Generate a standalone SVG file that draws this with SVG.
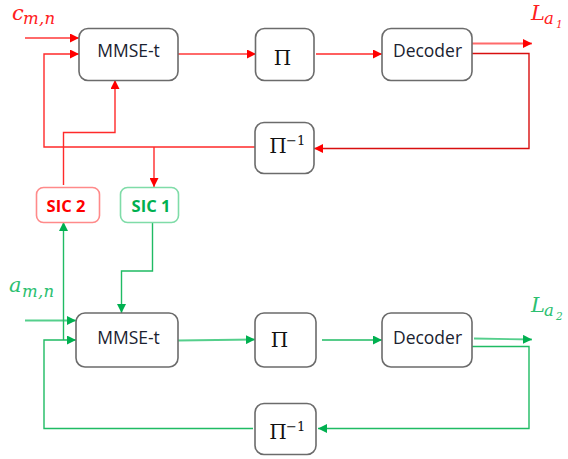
<svg xmlns="http://www.w3.org/2000/svg" width="568" height="459" viewBox="0 0 568 459">
<style>
.b{fill:#fff;stroke:#6b6b6b;stroke-width:1.6}
.t{font-family:"Open Sans","Noto Sans",sans-serif;font-size:17.5px;fill:#1a2230;text-anchor:middle}
.p{font-family:"DejaVu Serif","Liberation Serif",serif;font-size:20px;fill:#111;text-anchor:middle}
.e{font-family:"DejaVu Serif",serif;font-size:13px;fill:#111}
.m{font-family:"DejaVu Serif","Liberation Serif",serif;font-style:italic}
.big{font-size:21px}
.sub{font-size:16.500px;letter-spacing:.3px}
.idx{font-size:10.500px}
.rd{fill:#ff2020}
.gn{fill:#2cc070}
.r{fill:none;stroke:#ff2a2a;stroke-width:1.4}
.rl{fill:none;stroke:#ff6a6a;stroke-width:2}
.g{fill:none;stroke:#1fbb63;stroke-width:1.4}
.gl{fill:none;stroke:#55cf8c;stroke-width:1.8}
.s{font-family:"Open Sans","Noto Sans",sans-serif;font-weight:700;font-size:16.500px;text-anchor:middle}
</style>
<defs>
<marker id="ar" markerWidth="9" markerHeight="9" refX="9" refY="4.500" orient="auto" markerUnits="userSpaceOnUse"><path d="M0 0L9 4.500L0 9Z" fill="#ff0000"/></marker>
<marker id="ag" markerWidth="9" markerHeight="9" refX="9" refY="4.500" orient="auto" markerUnits="userSpaceOnUse"><path d="M0 0L9 4.500L0 9Z" fill="#00b050"/></marker>
</defs>
<g id="connectors">
<path class="rl" marker-end="url(#ar)" d="M25 38H79"/>
<path class="r" marker-end="url(#ar)" d="M255 147H44V54H79"/>
<path class="r" marker-end="url(#ar)" d="M154 147V187"/>
<path class="r" marker-end="url(#ar)" d="M63.500 185V132.500H115V80"/>
<path class="rl" marker-end="url(#ar)" d="M178 54H256"/>
<path class="r" marker-end="url(#ar)" d="M316 54H382"/>
<path class="rl" marker-end="url(#ar)" d="M472 43.500H532"/>
<path fill="none" stroke="#d80f0f" stroke-width="1.4" marker-end="url(#ar)" d="M472 53.500H529V148.500H314"/>
<path class="gl" marker-end="url(#ag)" d="M25 320.500H76"/>
<path class="g" marker-end="url(#ag)" d="M253 428.500H44V340H76"/>
<path class="g" marker-end="url(#ag)" d="M63.500 340V222"/>
<path class="g" marker-end="url(#ag)" d="M152.500 222V271H121.500V313"/>
<path class="gl" marker-end="url(#ag)" d="M178 340.500L255 339.500"/>
<path class="g" marker-end="url(#ag)" d="M322 340H382"/>
<path class="gl" marker-end="url(#ag)" d="M474 338.500L532 339.500"/>
<path class="g" marker-end="url(#ag)" d="M472 346.500H529V428.500H318"/>
</g>
<g id="mmse-top"><rect class="b" x="79" y="28.500" width="99" height="52" rx="9"/><text class="t" x="128.500" y="56.500">MMSE-t</text></g>
<g id="pi-top"><rect class="b" x="255.500" y="28.500" width="58.500" height="52" rx="9"/><text class="p" x="282.500" y="65">Π</text></g>
<g id="decoder-top"><rect class="b" x="382" y="28.500" width="90" height="52" rx="9"/><text class="t" x="427.500" y="56.500">Decoder</text></g>
<g id="piinv-top"><rect class="b" x="255" y="122.500" width="59" height="51" rx="9"/><text class="p" x="278" y="153">Π</text><text class="e" x="286" y="145">−1</text></g>
<g id="sic2"><rect x="36.500" y="187.500" width="63" height="35" rx="7" fill="#fff" stroke="#ff8a8a" stroke-width="1.6"/><text class="s" x="66" y="212" fill="#ff0000">SIC 2</text></g>
<g id="sic1"><rect x="120.500" y="187.500" width="58" height="35" rx="7" fill="#fff" stroke="#7fdca8" stroke-width="1.6"/><text class="s" x="151" y="212" fill="#00b050">SIC 1</text></g>
<g id="mmse-bot"><rect class="b" x="76" y="313" width="102" height="54" rx="9"/><text class="t" x="128.500" y="344">MMSE-t</text></g>
<g id="pi-bot"><rect class="b" x="255" y="313" width="61" height="54" rx="9"/><text class="p" x="279.500" y="347">Π</text></g>
<g id="decoder-bot"><rect class="b" x="382" y="313" width="90" height="54" rx="9"/><text class="t" x="427.500" y="344">Decoder</text></g>
<g id="piinv-bot"><rect class="b" x="255" y="403.500" width="61" height="51" rx="9"/><text class="p" x="278" y="439">Π</text><text class="e" x="286" y="431">−1</text></g>
<g id="labels">
<text class="m big rd" x="12" y="20">c</text><text class="m sub rd" x="23" y="24">m,n</text>
<text class="m big rd" x="531" y="20">L</text><text class="m sub rd" x="544" y="24">a</text><text class="m idx rd" x="556" y="28">1</text>
<text class="m big gn" x="9" y="292">a</text><text class="m sub gn" x="22" y="297">m,n</text>
<text class="m big gn" x="531" y="312">L</text><text class="m sub gn" x="544" y="316">a</text><text class="m idx gn" x="556" y="320">2</text>
</g>
</svg>
